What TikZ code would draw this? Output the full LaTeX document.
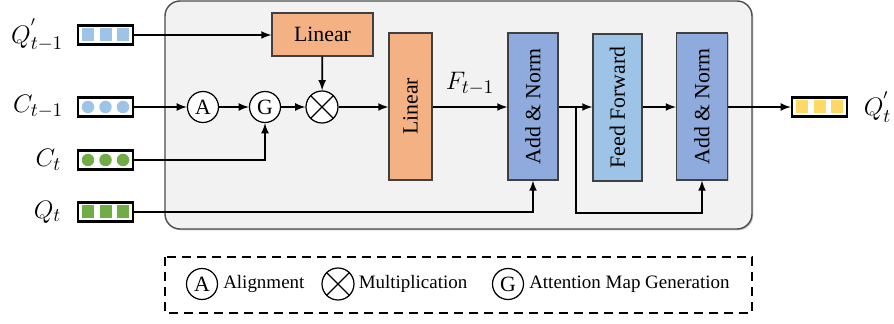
\documentclass[tikz,border=0pt]{standalone}
\usepackage{fontspec}
\setmainfont{Liberation Serif}
\usetikzlibrary{arrows,shadows}
\usetikzlibrary{calc,positioning}

\definecolor{linorange}{HTML}{F4B183}
\definecolor{normblue}{HTML}{8FAADC}
\definecolor{ffblue}{HTML}{9DC3E6}
\definecolor{vecblue}{HTML}{9DC3E6}
\definecolor{vecgreen}{HTML}{70AD47}
\definecolor{vecyellow}{HTML}{FFD966}
\definecolor{panelgray}{HTML}{F2F2F2}

\begin{document}
\begin{tikzpicture}[x=0.2mm,y=-0.2mm,>=latex,line width=1pt]
    \tikzstyle{block}=[draw=black!75, line width=0.6pt, inner sep=0pt,
      font=\fontsize{12.4}{14}\selectfont,
      drop shadow={shadow xshift=0.7pt, shadow yshift=-0.7pt, opacity=0.35}]
    \tikzstyle{op}=[circle, draw, fill=white, line width=0.7pt, inner sep=0pt,
      minimum size=6.2mm, font=\fontsize{12.4}{14}\selectfont]
    \tikzstyle{vec}=[draw, line width=1.3pt, minimum width=11mm, minimum height=3.8mm, inner sep=0pt]
    \tikzstyle{var}=[font=\fontsize{15.5}{18}\selectfont, inner sep=1pt]
    \tikzstyle{legtext}=[font=\fontsize{10.8}{13}\selectfont, inner sep=1pt]

    \useasboundingbox (0,0) rectangle (894,324);

    % encoder panel
    \draw[draw=black!70, fill=panelgray, line width=0.8pt, rounded corners=3mm,
      drop shadow={shadow xshift=0.8pt, shadow yshift=-0.8pt, opacity=0.4}]
      (165,1) rectangle (752,229);

    % input and output vectors
    \node[vec] (qp)  at (105.5,35)  {};
    \node[vec] (cp)  at (105.5,107) {};
    \node[vec] (ct)  at (105.5,160) {};
    \node[vec] (qt)  at (105.5,212) {};
    \node[vec] (out) at (819.5,107) {};
    \foreach \d in {-1,0,1} {
      \fill[vecblue]   ([xshift=\d*3.5mm-1.2mm, yshift=-1.3mm]qp.center) rectangle ++(2.4mm,2.6mm);
      \fill[vecblue]   ([xshift=\d*3.5mm]cp.center) circle (1.25mm);
      \fill[vecgreen]  ([xshift=\d*3.5mm]ct.center) circle (1.25mm);
      \fill[vecgreen]  ([xshift=\d*3.5mm-1.2mm, yshift=-1.3mm]qt.center) rectangle ++(2.4mm,2.6mm);
      \fill[vecyellow] ([xshift=\d*3.5mm-1.2mm, yshift=-1.3mm]out.center) rectangle ++(2.4mm,2.6mm);
    }

    \node[var, left=2.2mm of qp]  (lqp)  {$Q^{'}_{t-1}$};
    \node[var, left=2.2mm of cp]  (lcp)  {$C_{t-1}$};
    \node[var, left=2.6mm of ct]  (lct)  {$C_{t}$};
    \node[var, left=2.6mm of qt]  (lqt)  {$Q_{t}$};
    \node[var, right=2.6mm of out] (lout) {$Q^{'}_{t}$};

    % blocks
    \node[block, fill=linorange, minimum width=20.2mm, minimum height=8.6mm] (lin1) at (322.5,34.5) {Linear};
    \node[block, fill=linorange, minimum width=8.6mm, minimum height=29.4mm] (lin2) at (410.5,106.5) {\rotatebox{90}{Linear}};
    \node[block, fill=normblue, minimum width=10mm, minimum height=29.4mm]   (an1)  at (533,106.5)   {\rotatebox{90}{Add \& Norm}};
    \node[block, fill=ffblue, minimum width=9.8mm, minimum height=29.4mm]    (ff)   at (617.5,107.5) {\rotatebox{90}{Feed Forward}};
    \node[block, fill=normblue, minimum width=10.2mm, minimum height=29.4mm] (an2)  at (702,106.5)   {\rotatebox{90}{Add \& Norm}};

    % alignment, map generation and multiplication
    \node[op] (al)  at (203,107) {A};
    \node[op] (gen) at (265,107) {G};
    \node[op, minimum size=6.4mm] (mul) at (322,107) {};
    \draw[line width=0.7pt] (mul.north west) -- (mul.south east) (mul.north east) -- (mul.south west);

    % connections
    \draw[->] (qp.east) -- (qp.east -| lin1.west);
    \draw[->] (cp) -- (al);
    \draw[->] (al) -- (gen);
    \draw[->] (gen) -- (mul);
    \draw[->] (lin1) -- (mul);
    \draw[->] (mul.east) -- (mul.east -| lin2.west);
    \draw[->] (ct.east) -| (gen.south);
    \draw[->] (qt.east) -| (an1.south);
    \draw[->] (lin2.east |- mul.east) -- node[var, above=1.8mm] (lf) {$F_{t-1}$} (an1.west |- mul.east);
    \draw[->] (an1.east |- mul.east) -- (ff.west |- mul.east);
    \coordinate (br) at (576,107);
    \draw[->] (br) -- ++(0,106) -| (an2.south);
    \draw[->] (ff.east |- mul.east) -- (an2.west |- mul.east);
    \draw[->] (an2.east |- mul.east) -- (out.west);

    % legend
    \draw[dash pattern=on 1.8mm off 1.2mm, line width=1.1pt] (165,257) rectangle (752,313);
    \node[op] (legal)  at (202,284) {A};
    \node[legtext, right=0.5mm of legal] (tal) {Alignment};
    \node[op, minimum size=6.4mm] (legmul) at (338,284) {};
    \draw[line width=0.7pt] (legmul.north west) -- (legmul.south east) (legmul.north east) -- (legmul.south west);
    \node[legtext, right=0.3mm of legmul] (tmul) {Multiplication};
    \node[op] (leggen) at (508,284) {G};
    \node[legtext, right=0.5mm of leggen] (tgen) {Attention Map Generation};
\end{tikzpicture}
\end{document}
